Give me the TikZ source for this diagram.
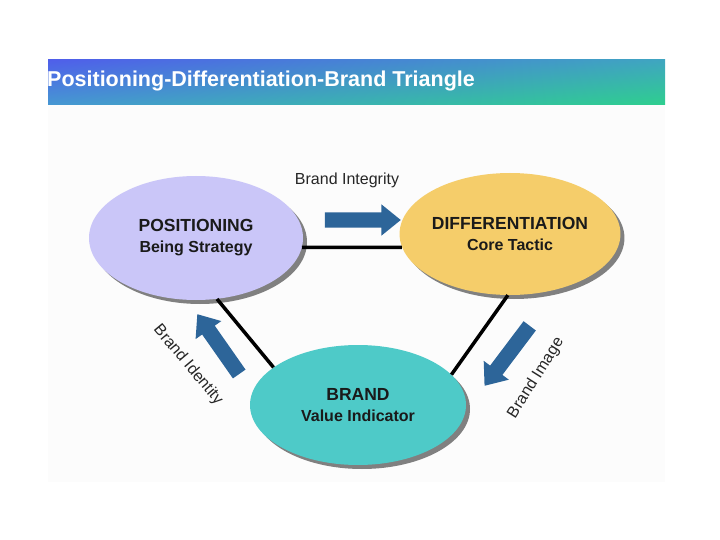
\documentclass[tikz,border=0pt]{standalone}
\usepackage{fontspec}
\setmainfont{Liberation Sans}
\usepackage{tikz}
\usetikzlibrary{shapes.geometric, shapes.arrows, shadows, shadings, positioning}

\definecolor{barUL}{HTML}{4F5FEA}
\definecolor{barLL}{HTML}{4698D2}
\definecolor{barUR}{HTML}{3FA6C0}
\definecolor{barLR}{HTML}{2ECF8E}
\definecolor{posfill}{HTML}{CAC6F8}
\definecolor{difffill}{HTML}{F5CD6A}
\definecolor{brandfill}{HTML}{4ECAC8}
\definecolor{arrowblue}{HTML}{2D6599}
\definecolor{inktext}{HTML}{1A1A1A}

\newcommand{\headfont}{\fontsize{17.5}{21}\selectfont}

\tikzset{
    blob/.style={ellipse, text=inktext, align=center, inner sep=0pt,
        font=\fontsize{16}{21}\selectfont\bfseries,
        drop shadow={shadow xshift=4pt, shadow yshift=-4pt, fill=black!50, opacity=1}},
    blockarrow/.style={single arrow, fill=arrowblue, inner xsep=0pt, inner ysep=7.5pt,
        minimum width=31pt, single arrow head extend=8pt, single arrow tip angle=78},
    linklabel/.style={font=\fontsize{16}{19}\selectfont, text=black!85},
    link/.style={line width=3.5pt}
}

\begin{document}
\begin{tikzpicture}[x=1pt, y=-1pt]
    \useasboundingbox (0,0) rectangle (720,540);

    % Faint panel and the title bar
    \fill[black!1] (48,105) rectangle (665,482);
    \shade[upper left=barUL, lower left=barLL, upper right=barUR, lower right=barLR]
        (48,60) rectangle (665,105);
    \node[anchor=west, inner sep=0pt, text=white, font=\fontsize{21.5}{25}\selectfont\bfseries] (Title) at (47,81)
        {Positioning-Differentiation-Brand Triangle};

    % The three ellipses
    \node[blob, fill=posfill, minimum width=214pt, minimum height=124pt] (Pos) at (196,238)
        {{\headfont POSITIONING}\\Being Strategy};
    \node[blob, fill=difffill, minimum width=218pt, minimum height=122pt] (Diff) at (510,234)
        {{\headfont DIFFERENTIATION}\\Core Tactic};
    \node[blob, fill=brandfill, minimum width=216pt, minimum height=120pt] (Brand) at (358,405)
        {{\headfont BRAND}\\Value Indicator};

    % Connecting lines
    \draw[link] (Pos.-5) -- (Diff.187);
    \draw[link] (Pos.-71) -- (Brand.156);
    \draw[link] (Diff.-92) -- (Brand.18);

    % Block arrows
    \node[blockarrow, minimum height=76pt] (IntegrityArrow) at (358,220) {};
    \node[blockarrow, minimum height=73pt, rotate=125] (IdentityArrow) at (221,348) {};
    \node[blockarrow, minimum height=75pt, rotate=-127] (ImageArrow) at (510,352) {};

    % Arrow labels
    \node[linklabel] (Integrity) at (347,180) {Brand Integrity};
    \node[linklabel, rotate=-50] (Identity) at (188,365) {Brand Identity};
    \node[linklabel, rotate=58] (Image) at (536,378) {Brand Image};

\end{tikzpicture}
\end{document}
